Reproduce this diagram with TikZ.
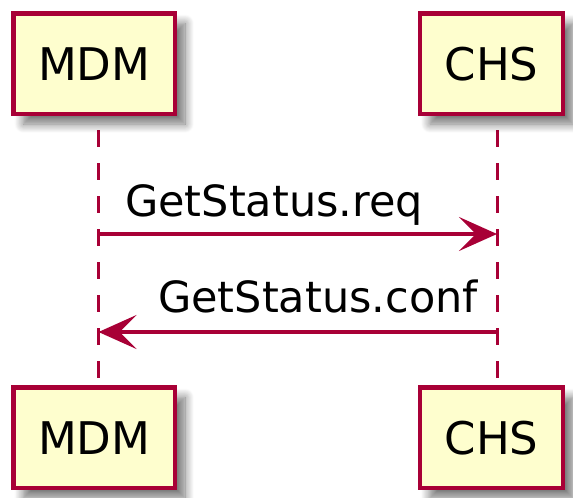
\documentclass[tikz,border=0pt]{standalone}
\usepackage{fontspec}
\setmainfont{DejaVu Sans}
\usetikzlibrary{arrows.meta,shadows.blur}

\definecolor{umlborder}{HTML}{A80036}
\definecolor{umlfill}{HTML}{FEFECE}

\tikzset{
  participant/.style={
    draw=umlborder, fill=umlfill, line width=4.5pt,
    inner sep=0pt, anchor=center,
    font=\fontsize{45pt}{54pt}\selectfont,
    blur shadow={shadow xshift=10pt, shadow yshift=-10pt,
                 shadow blur radius=9pt, shadow blur steps=12,
                 shadow opacity=55}
  },
  lifeline/.style={draw=umlborder, line width=3pt,
    dash pattern=on 17pt off 16pt, dash phase=17pt},
  message/.style={draw=umlborder, line width=3.2pt,
    -{Stealth[length=38pt, width=34pt, inset=17pt, fill=umlborder]}},
  msglabel/.style={anchor=base west, inner sep=0pt,
    font=\fontsize{43pt}{51pt}\selectfont}
}

\begin{document}
\begin{tikzpicture}[x=1pt, y=-1pt]
  \useasboundingbox (0,0) rectangle (573,498);

  % lifelines, drawn first so the head shadows lie over them
  \coordinate (mdmA) at (98.5,114);
  \coordinate (mdmB) at (98.5,387.5);
  \coordinate (chsA) at (497,114);
  \coordinate (chsB) at (497,387.5);
  \draw[lifeline] (mdmA) -- (mdmB);
  \draw[lifeline] (chsA) -- (chsB);

  % participant heads and feet
  \node[participant, minimum width=161.5pt, minimum height=100.5pt] (mdmTop) at (94.25,63.75) {MDM};
  \node[participant, minimum width=143pt, minimum height=100.5pt] (chsTop) at (491.5,63.75) {CHS};
  \node[participant, minimum width=161.5pt, minimum height=100.5pt] (mdmBot) at (94.25,437.75) {MDM};
  \node[participant, minimum width=143pt, minimum height=100.5pt] (chsBot) at (491.5,437.75) {CHS};

  % messages
  \coordinate (reqFrom) at (98.5,234);
  \coordinate (reqTo) at (497,234);
  \coordinate (confFrom) at (497,332);
  \coordinate (confTo) at (98.5,332);
  \draw[message] (reqFrom) -- (reqTo);
  \draw[message] (confFrom) -- (confTo);

  \node[msglabel] (reqLabel) at (125,216) {GetStatus.req};
  \node[msglabel] (confLabel) at (158,312) {GetStatus.conf};
\end{tikzpicture}
\end{document}
